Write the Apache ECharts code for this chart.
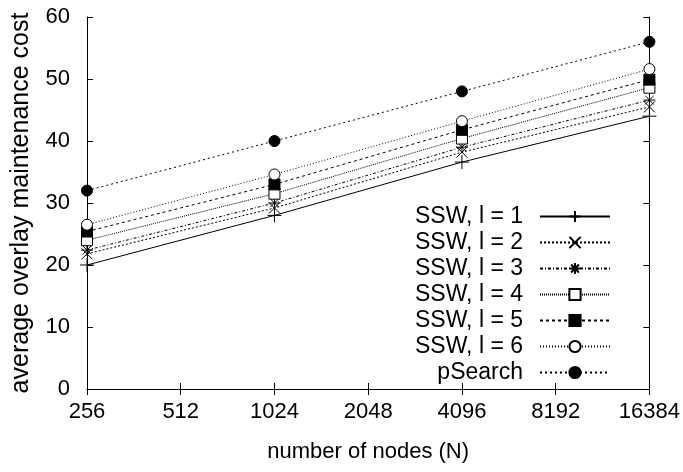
<!DOCTYPE html>
<html>
<head>
<meta charset="utf-8">
<script src="https://cdn.jsdelivr.net/npm/echarts@6/dist/echarts.min.js"></script>
<style>
  html, body { margin: 0; padding: 0; background: #fff; }
  #main { width: 683px; height: 472px; }
</style>
</head>
<body>
<div id="main"></div>
<script>
// number of nodes (x) and the cost for each curve
var nodes = [256, 1024, 4096, 16384];
var ssw1 = [20, 28, 36.6, 44];
var ssw2 = [21.8, 29.2, 38.2, 45.5];
var ssw3 = [22.4, 30, 39, 46.6];
var ssw4 = [24, 31.5, 40.4, 48.6];
var ssw5 = [25.4, 33, 41.8, 49.9];
var ssw6 = [26.5, 34.6, 43.2, 51.6];
var psearch = [32, 40, 48, 56];

var names = ['SSW, l = 1', 'SSW, l = 2', 'SSW, l = 3', 'SSW, l = 4', 'SSW, l = 5', 'SSW, l = 6', 'pSearch'];
var values = [ssw1, ssw2, ssw3, ssw4, ssw5, ssw6, psearch];

var PLUS = 'path://M0,5L10,5M5,0L5,10';
var CROSS = 'path://M0,0L10,10M0,10L10,0';
var STAR = 'path://M0,5L10,5M5,0L5,10M1.5,1.5L8.5,8.5M1.5,8.5L8.5,1.5';

// marker, size, fill, line dash
var looks = [
    [PLUS, 14, 'none', 'solid'],
    [CROSS, 11, 'none', [2, 2]],
    [STAR, 12, 'none', [3, 2, 1, 2]],
    ['rect', 11, '#fff', [1, 1]],
    ['rect', 11, '#000', [3, 3]],
    ['circle', 11, '#fff', [1, 2]],
    ['circle', 11, '#000', [2, 3]]
];

var font = 'Liberation Sans, Arial, sans-serif';

var series = names.map(function (n, i) {
    var lk = looks[i];
    return {
        name: n,
        type: 'line',
        data: nodes.map(function (x, j) { return [x, values[i][j]]; }),
        symbol: lk[0],
        symbolSize: lk[1],
        showAllSymbol: true,
        lineStyle: { color: '#000', width: 1, type: lk[3] },
        itemStyle: { color: lk[2], borderColor: '#000', borderWidth: 1, opacity: 1 },
        emphasis: { disabled: true },
        z: 2 + i
    };
});

var myChart = echarts.init(document.getElementById('main'), null, { renderer: 'canvas' });

var xBase = {
    type: 'log',
    logBase: 2,
    min: 256,
    max: 16384,
    axisLine: { lineStyle: { color: '#000', width: 1 } },
    axisTick: { inside: true, length: 6, lineStyle: { color: '#000' } },
    splitLine: { show: false }
};
var yBase = {
    type: 'value',
    min: 0,
    max: 60,
    interval: 10,
    axisLine: { show: true, lineStyle: { color: '#000', width: 1 } },
    axisTick: { show: true, inside: true, length: 6, lineStyle: { color: '#000' } },
    splitLine: { show: false }
};

var option = {
    animation: false,
    backgroundColor: '#fff',
    grid: { left: 87, right: 10, top: 17, bottom: 83 },
    legend: {
        orient: 'vertical',
        align: 'right',
        right: 72,
        top: 205,
        itemWidth: 70,
        itemHeight: 14,
        itemGap: 3,
        padding: 0,
        data: names,
        textStyle: { fontSize: 23, lineHeight: 22, fontFamily: font, color: '#000', padding: [0, 12, 0, 0] }
    },
    xAxis: [
        Object.assign({}, xBase, {
            position: 'bottom',
            name: 'number of nodes (N)',
            nameLocation: 'middle',
            nameGap: 52,
            nameTextStyle: { fontSize: 22, fontFamily: font, color: '#000' },
            axisLabel: {
                margin: 12, fontSize: 22, fontFamily: font, color: '#000',
                formatter: function (v) { return String(Math.round(v)); }
            }
        }),
        Object.assign({}, xBase, { position: 'top', axisLabel: { show: false } })
    ],
    yAxis: [
        Object.assign({}, yBase, {
            position: 'left',
            name: 'average overlay maintenance cost',
            nameLocation: 'middle',
            nameGap: 53,
            nameTextStyle: { fontSize: 25, fontFamily: font, color: '#000' },
            axisLabel: { margin: 17, fontSize: 22, fontFamily: font, color: '#000' }
        }),
        Object.assign({}, yBase, { position: 'right', axisLabel: { show: false } })
    ],
    series: series
};

myChart.setOption(option, true);
</script>
</body>
</html>
